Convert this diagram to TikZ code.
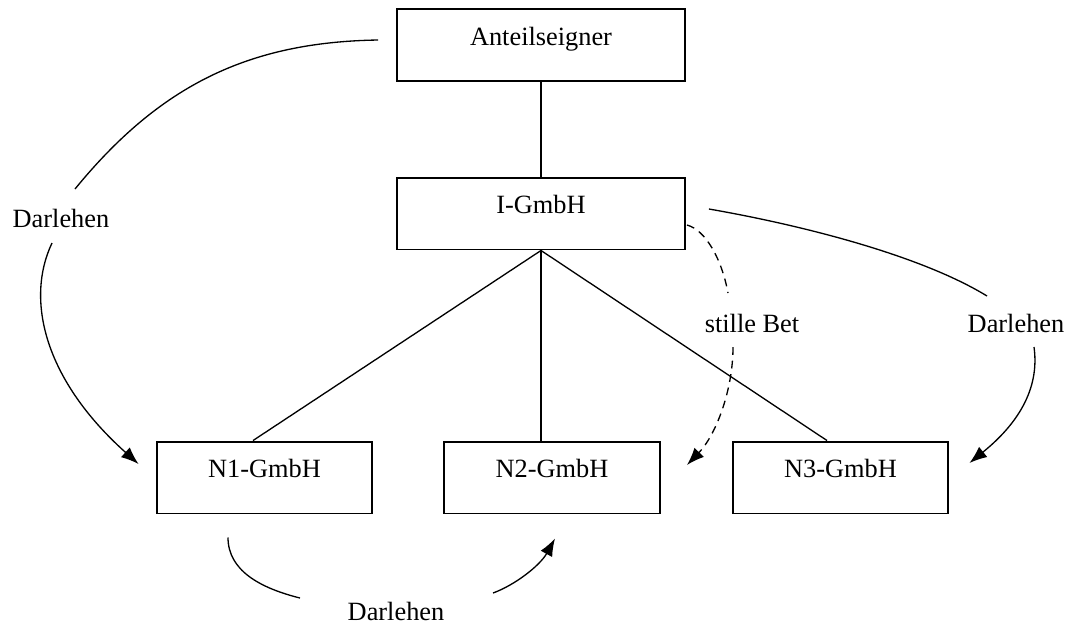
\documentclass[tikz,border=0pt]{standalone}
\usepackage{fontspec}
\setmainfont{Liberation Serif}
\usetikzlibrary{arrows.meta,calc}

\begin{document}
\begin{tikzpicture}[x=0.016cm, y=-0.016cm, font=\fontsize{12pt}{14pt}\selectfont,
    firma/.style={draw, line width=0.9pt, inner sep=0pt, minimum width=#1,
      text height=0.576cm, text depth=0.576cm},
    firma/.default=3.456cm,
    lbl/.style={inner sep=0pt},
    link/.style={line width=0.6pt},
    pfeil/.style={link, -{Latex[length=8pt,width=6pt]}},
    still/.style={pfeil, dash pattern=on 3.6pt off 2.6pt}]
  \useasboundingbox (0,0) rectangle (1076,624);

  \node[firma=4.608cm] (anteil) at (541,45) {Anteilseigner};
  \node[firma=4.608cm] (igmbh) at (541,213.5) {I-GmbH};
  \node[firma] (n1) at (264.5,477.5) {N1-GmbH};
  \node[firma] (n2) at (552,477.5) {N2-GmbH};
  \node[firma] (n3) at (840.5,477.5) {N3-GmbH};

  \node[lbl] (darlL) at (61,218) {Darlehen};
  \node[lbl] (bet) at (752,323) {stille Bet};
  \node[lbl] (darlR) at (1016,323) {Darlehen};
  \node[lbl] (darlB) at (396,611) {Darlehen};

  % Beteiligungen
  \draw[link] (anteil) -- (igmbh);
  \draw[link] (igmbh.south) -- ($(n1.north)+(-11.5,0)$);
  \draw[link] (igmbh.south) -- ($(n2.north)+(-11,0)$);
  \draw[link] (igmbh.south) -- ($(n3.north)+(-13.5,0)$);

  % Darlehen
  \draw[link] ($(anteil.west)+(-18,-5)$) .. controls +(-129,2) and +(85,-104) .. ($(darlL)+(14,-29)$);
  \draw[pfeil] ($(darlL)+(-9,25)$) .. controls +(-27,57) and +(-94,-84) .. ($(n1.west)+(-17,-13.5)$);
  \draw[link] ($(igmbh.east)+(23,-4.5)$) .. controls +(92,16) and +(-67,-41) .. ($(darlR)+(-29,-27)$);
  \draw[pfeil] ($(darlR)+(18,24)$) .. controls +(6,43) and +(47,-38) .. ($(n3.east)+(20,-14.5)$);
  \draw[link] ($(n1.south)+(-36.5,23)$) .. controls +(0,33) and +(-40,-10) .. ($(darlB)+(-96,-13)$);
  \draw[pfeil] ($(darlB)+(97,-18)$) .. controls +(22,-8) and +(-15,27) .. ($(n2.south)+(3,24)$);

  % stille Beteiligung
  \draw[still, -] ($(igmbh.east)+(1,11.5)$) .. controls +(19,5) and +(-6,-33) .. ($(bet)+(-24,-30)$);
  \draw[still] ($(bet)+(-19,24)$) .. controls +(0,43) and +(29,-30) .. ($(n2.east)+(26,-12.5)$);
\end{tikzpicture}
\end{document}
